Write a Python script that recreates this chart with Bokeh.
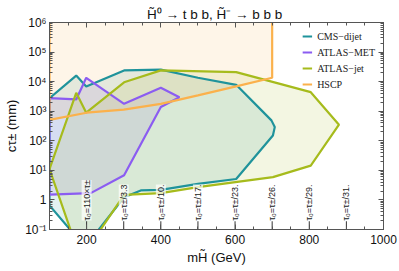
import math
from bokeh.plotting import figure
from bokeh.models import LogAxis, LinearAxis, FixedTicker, CustomJSTickFormatter
from bokeh.core.properties import value
from bokeh.embed import file_html
from bokeh.resources import INLINE

# ---------------- data ----------------
cms_m = [100, 172, 199, 301, 400, 500, 603, 698, 707, 702, 603, 500, 400, 346, 301, 202, 189, 100]
cms_ct = [2750, 16000, 6900, 24000, 25500, 13500, 7800, 490, 290, 150, 5.1, 3.5, 2.2, 2.1, 1.23, 0.032, 0.032, 0.65]

met_m = [100, 172, 199, 301, 400, 450, 400, 301, 211, 100]
met_ct = [2750, 2500, 13500, 1780, 6200, 2960, 1380, 6.8, 1.7, 1.5]

jet_m = [100, 172, 199, 301, 400, 603, 804, 880, 804, 702, 500, 400, 301, 211, 170]
jet_ct = [11, 4200, 890, 9500, 24000, 21000, 4400, 350, 14.5, 5.9, 2.7, 1.7, 1.48, 0.032, 0.032]

hscp_m = [100, 200, 300, 400, 500, 600, 700, 700, 100]
hscp_ct = [510, 890, 1130, 1780, 3450, 6800, 13500, 1e7, 1e7]

tau_m = [200, 300, 400, 500, 600, 700, 800, 900]
tau_text = ["τ₀=110×τ±", "τ₀=τ±/3.3", "τ₀=τ±/10.", "τ₀=τ±/17.",
            "τ₀=τ±/23.", "τ₀=τ±/26.", "τ₀=τ±/29.", "τ₀=τ±/31."]

x_ticks = [200, 400, 600, 800, 1000]
x_tick_labels = ["200", "400", "600", "800", "1000"]
y_ticks = [0.1, 1, 10, 100, 1000, 1e4, 1e5, 1e6]
y_tick_labels = ["10⁻¹", "1", "10¹", "10²", "10³", "10⁴", "10⁵", "10⁶"]

series_names = ["CMS−dijet", "ATLAS−MET", "ATLAS−jet", "HSCP"]
colors = ["#1f939b", "#8b5cf1", "#a6bb1c", "#fbb14c"]

# ---------------- figure ----------------
FONT = "Liberation Sans"
p = figure(width=399, height=271, x_range=(100, 1000), y_range=(0.1, 1e6),
           y_axis_type="log", output_backend="svg", toolbar_location=None,
           min_border_left=49, min_border_right=16, min_border_top=22, min_border_bottom=42,
           title="H̃⁰ → t b b,  H̃⁻ → b b b")
p.background_fill_color = "white"
p.border_fill_color = "white"
p.grid.visible = False
p.outline_line_color = "#555555"
p.title.align = "center"
p.title.text_font = FONT
p.title.text_font_size = "13.5px"
p.title.text_font_style = "normal"
p.title.text_color = "#111111"
p.title.standoff = 1

x_minor = list(range(100, 1001, 50))
y_minor = [m * 10.0 ** e for e in range(-1, 6) for m in range(2, 10)]

fmt_js = """
const i = tk.findIndex(t => Math.abs(Math.log10(t) - Math.log10(tick)) < 1e-6);
return i >= 0 ? lb[i] : '';
"""
xfmt_js = """
const i = tk.findIndex(t => Math.abs(t - tick) < 1e-6);
return i >= 0 ? lb[i] : '';
"""

def style_axis(ax, show_labels):
    ax.axis_line_color = "#555555"
    ax.major_tick_line_color = "#555555"
    ax.minor_tick_line_color = "#555555"
    ax.major_tick_in = 5
    ax.major_tick_out = 0
    ax.minor_tick_in = 3
    ax.minor_tick_out = 0
    ax.major_label_text_font = FONT
    ax.major_label_text_color = "#111111"
    if show_labels:
        ax.major_label_text_font_size = "12px"
    else:
        ax.major_label_text_font_size = "0px"
        ax.major_label_standoff = 0

xa = p.xaxis[0]
xa.ticker = FixedTicker(ticks=x_ticks, minor_ticks=x_minor)
xa.formatter = CustomJSTickFormatter(args=dict(tk=x_ticks, lb=x_tick_labels), code=xfmt_js)
style_axis(xa, True)
xa.major_label_standoff = 5
xa.axis_label = "mH̃ (GeV)"
xa.axis_label_text_font = FONT
xa.axis_label_text_font_size = "13px"
xa.axis_label_text_font_style = "normal"
xa.axis_label_text_color = "#111111"
xa.axis_label_standoff = 3

ya = p.yaxis[0]
ya.ticker = FixedTicker(ticks=y_ticks, minor_ticks=y_minor)
ya.formatter = CustomJSTickFormatter(args=dict(tk=y_ticks, lb=y_tick_labels), code=fmt_js)
style_axis(ya, True)
ya.major_label_standoff = 3
ya.axis_label = "cτ± (mm)"
ya.axis_label_text_font = FONT
ya.axis_label_text_font_size = "13px"
ya.axis_label_text_font_style = "normal"
ya.axis_label_text_color = "#111111"
ya.axis_label_standoff = 3

top = LinearAxis(ticker=FixedTicker(ticks=x_ticks, minor_ticks=x_minor),
                 formatter=CustomJSTickFormatter(code="return ''"))
style_axis(top, False)
p.add_layout(top, "above")
right = LogAxis(ticker=FixedTicker(ticks=y_ticks, minor_ticks=y_minor),
                formatter=CustomJSTickFormatter(code="return ''"))
style_axis(right, False)
p.add_layout(right, "right")

# ---------------- regions ----------------
regions = [(cms_m, cms_ct), (met_m, met_ct), (jet_m, jet_ct), (hscp_m, hscp_ct)]
for (mx, cy), c in zip(regions, colors):
    p.patch(mx, cy, fill_color=c, fill_alpha=0.13, line_alpha=0)

for (mx, cy), c, name in zip(regions, colors, series_names):
    p.line(mx + [mx[0]], cy + [cy[0]], line_color=c, line_width=2.2, legend_label=name)

# tau0 annotations
p.segment(x0=tau_m, y0=0.1, x1=tau_m, y1=0.19, line_color="#333333", line_width=1)
p.text(x=tau_m, y=[0.2] * len(tau_m), text=tau_text, angle=math.pi / 2,
       text_align="left", text_baseline="middle", text_font=value(FONT),
       text_font_size="9px", text_color="#222222",
       background_fill_color="white", background_fill_alpha=0.7)

# legend
lg = p.legend[0]
lg.location = "top_right"
lg.background_fill_alpha = 0
lg.border_line_alpha = 0
lg.label_text_font = "Liberation Serif"
lg.label_text_font_size = "10px"
lg.label_text_color = "#222222"
lg.glyph_width = 10
lg.glyph_height = 12
lg.label_height = 12
lg.spacing = 4
lg.label_standoff = 5
lg.padding = 4
lg.margin = 4

open("out.html", "w").write(file_html(p, INLINE))
